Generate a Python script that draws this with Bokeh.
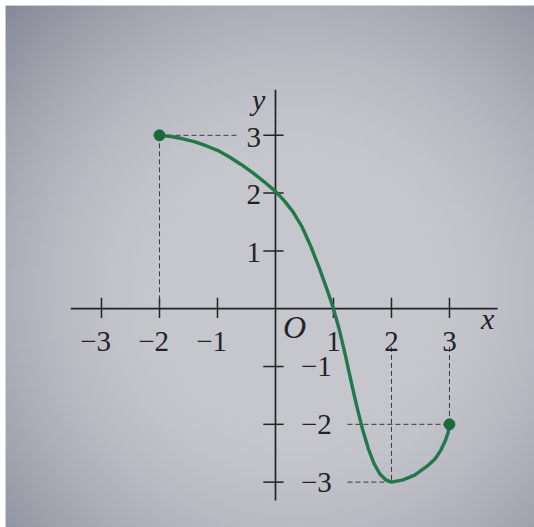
import numpy as np
from bokeh.plotting import figure
from bokeh.models import Range1d
from bokeh.core.properties import value
from bokeh.embed import file_html
from bokeh.resources import INLINE

# ---- data ----
curve_x = [-2.0, -1.8, -1.6, -1.4, -1.2, -1.0, -0.8, -0.6, -0.4, -0.2, 0.0, 0.15, 0.3,
           0.45, 0.6, 0.75, 0.9, 1.0, 1.1, 1.2, 1.3, 1.4, 1.5, 1.6, 1.7, 1.8, 1.9,
           2.0, 2.2, 2.4, 2.62, 2.75, 2.85, 2.93, 2.98, 3.0]
curve_y = [3.0, 2.98, 2.94, 2.89, 2.82, 2.74, 2.63, 2.50, 2.36, 2.20, 2.03, 1.87, 1.68,
           1.43, 1.10, 0.72, 0.30, 0.0, -0.36, -0.78, -1.24, -1.68, -2.08, -2.42, -2.68,
           -2.86, -2.96, -3.0, -2.96, -2.88, -2.72, -2.60, -2.45, -2.28, -2.13, -2.0]
end_x = [-2, 3]
end_y = [3, -2]
x_ticks = [-3, -2, -1, 1, 2, 3]
x_tick_labels = ["\u22123", "\u22122", "\u22121", "1", "2", "3"]
y_ticks = [3, 2, 1, -1, -2, -3]
y_tick_labels = ["3", "2", "1", "\u22121", "\u22122", "\u22123"]
# dashed guide segments (x0, y0, x1, y1)
guide_x0 = [-2.0, -2.0, 1.24, 3.0, 2.0, 1.24]
guide_y0 = [3.0, 3.0, -2.0, -0.66, -0.66, -3.0]
guide_x1 = [-0.66, -2.0, 3.0, 3.0, 2.0, 2.0]
guide_y1 = [3.0, 0.0, -2.0, -2.0, -3.0, -3.0]

W, H = 534, 527
X0, X1 = -4.655, 4.466
Y0, Y1 = -3.785, 5.246

p = figure(width=W, height=H, output_backend="svg", toolbar_location=None,
           x_range=Range1d(X0, X1), y_range=Range1d(Y0, Y1),
           min_border=0, min_border_left=5, min_border_top=5,
           border_fill_color="white", background_fill_color="#c4c5cc",
           outline_line_color=None)
p.axis.visible = False
p.grid.visible = False

# photo-like background shading (vignette)
hh, ww = 128, 128
v, u = np.mgrid[0:hh, 0:ww]
u = u / (ww - 1)
vv = 1 - v / (hh - 1)  # 0 at top
d = np.sqrt(((u - 0.55) / 0.55) ** 2 + ((vv - 0.55) / 0.55) ** 2)
dark = 70 * np.clip(d - 0.5, 0, None) ** 1.5
base = np.array([198, 199, 205], dtype=float)
img = np.zeros((hh, ww, 4), dtype=np.uint8)
for c in range(3):
    img[:, :, c] = np.clip(base[c] - dark * (1.0 if c < 2 else 0.85), 0, 255)
img[:, :, 3] = 255
p.image_rgba(image=[img.view(np.uint32).reshape(hh, ww)], x=X0, y=Y0,
             dw=X1 - X0, dh=Y1 - Y0)

ink = "#232326"
# axes
p.segment(x0=[-3.53], y0=[0], x1=[3.83], y1=[0], line_color=ink, line_width=1.7)
p.segment(x0=[0], y0=[-3.32], x1=[0], y1=[3.79], line_color=ink, line_width=1.7)
# tick marks
p.segment(x0=x_ticks, y0=[-0.16] * 6, x1=x_ticks, y1=[0.19] * 6, line_color=ink, line_width=1.5)
p.segment(x0=[-0.21] * 6, y0=y_ticks, x1=[0.14] * 6, y1=y_ticks, line_color=ink, line_width=1.5)

# dashed guides
p.segment(x0=guide_x0, y0=guide_y0, x1=guide_x1, y1=guide_y1,
          line_color="#3a3a40", line_width=1, line_dash="5 3")

# curve and endpoints
p.line(curve_x, curve_y, line_color="#23784a", line_width=3.4, line_join="round")
p.scatter(end_x, end_y, size=11, fill_color="#1c6a3c", line_color="#1c6a3c")

font = value("Liberation Serif")
# x tick labels
xl = [t - 0.1 if t < 0 else t for t in x_ticks]
p.text(x=xl, y=[-0.56] * 6, text=x_tick_labels, text_font=font, text_font_size="29px",
       text_align="center", text_baseline="middle", text_color=ink)
# y tick labels
pos_y = [t for t in y_ticks if t > 0]
neg_y = [t for t in y_ticks if t < 0]
p.text(x=[-0.25] * 3, y=[t - 0.03 for t in pos_y], text=y_tick_labels[:3], text_font=font,
       text_font_size="29px", text_align="right", text_baseline="middle", text_color=ink)
p.text(x=[0.44] * 3, y=neg_y, text=y_tick_labels[3:], text_font=font,
       text_font_size="29px", text_align="left", text_baseline="middle", text_color=ink)
# axis names and origin
p.text(x=[-0.29, 3.66], y=[3.62, -0.17], text=["y", "x"], text_font=font,
       text_font_size="30px", text_font_style="italic", text_align="center",
       text_baseline="middle", text_color=ink)
p.text(x=[0.33], y=[-0.31], text=["O"], text_font=font,
       text_font_size="32px", text_font_style="italic", text_align="center",
       text_baseline="middle", text_color=ink)

open("out.html", "w").write(file_html(p, INLINE))
